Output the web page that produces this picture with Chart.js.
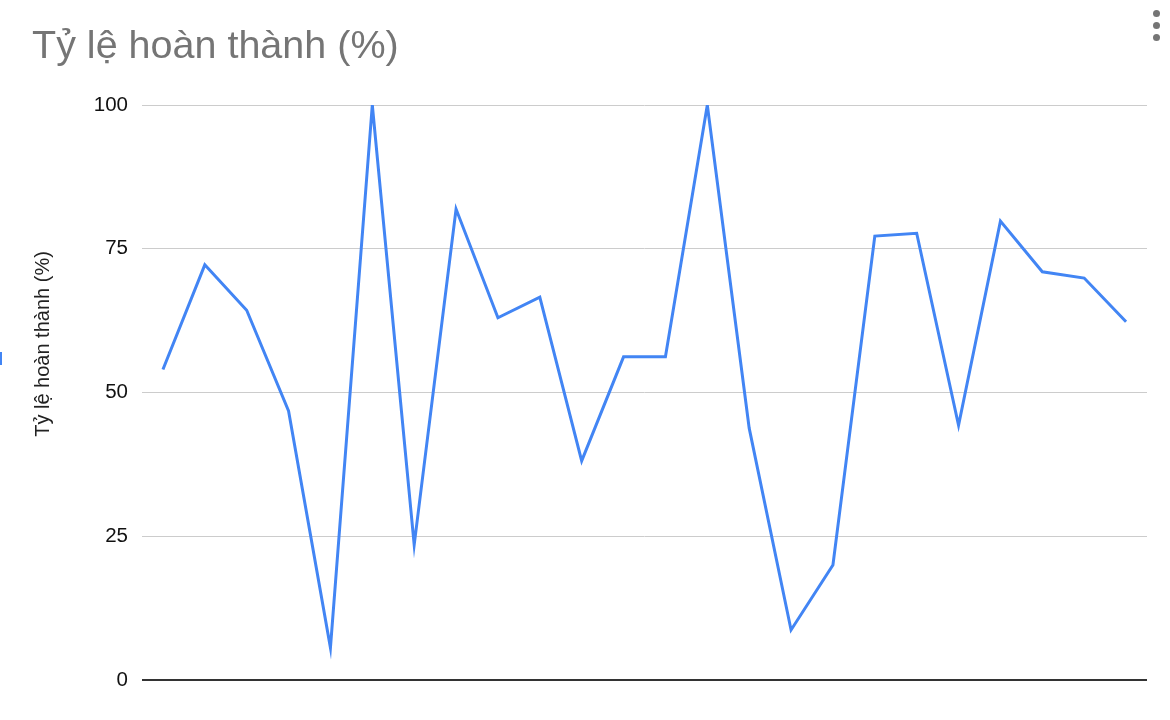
<!DOCTYPE html>
<html>
<head>
<meta charset="utf-8">
<script src="https://cdn.jsdelivr.net/npm/chart.js@4"></script>
<style>
  html, body { margin: 0; padding: 0; background: #fff; }
  #wrap { position: relative; width: 1170px; height: 720px; overflow: hidden; }
  #title {
    position: absolute; left: 32px; top: 22px;
    font-family: "Liberation Sans", Arial, sans-serif; font-size: 39.5px;
    color: #757575; white-space: nowrap;
  }
  .dot { position: absolute; left: 1153px; width: 7px; height: 7px; border-radius: 50%; background: #757575; }
  #edge { position: absolute; left: 0; top: 352px; width: 2px; height: 13px; background: #4285f4; }
</style>
</head>
<body>
<div id="wrap">
  <canvas id="my-chart" width="1170" height="720"></canvas>
  <div id="title">Tỷ lệ hoàn thành (%)</div>
  <div class="dot" style="top:10px"></div>
  <div class="dot" style="top:22px"></div>
  <div class="dot" style="top:34px"></div>
  <div id="edge"></div>
</div>
<script>
const seriesName = "Tỷ lệ hoàn thành (%)"
const labels = ["1", "2", "3", "4", "5", "6", "7", "8", "9", "10", "11", "12",
  "13", "14", "15", "16", "17", "18", "19", "20", "21", "22", "23", "24"]
const completion = [54, 72.2, 64.3, 46.8, 5.6, 100, 23.5, 81.9, 63, 66.6, 38.1, 56.2,
  56.2, 100, 43.8, 8.7, 20, 77.2, 77.7, 44.3, 79.8, 71, 69.9, 62.3]
const yTicks = [0, 25, 50, 75, 100]

// draws the rotated y-axis title where Google places it (not centred on the plot)
const yTitlePlugin = {
  id: "yTitle",
  afterDraw(chart) {
    const ctx = chart.ctx
    ctx.save()
    ctx.translate(43, 344)
    ctx.rotate(-Math.PI / 2)
    ctx.font = '20px "Liberation Sans", Arial, sans-serif'
    ctx.fillStyle = "#222"
    ctx.textAlign = "center"
    ctx.textBaseline = "middle"
    ctx.fillText(seriesName, 0, 0)
    ctx.restore()
  }
}

window.onload = function () {
  const ctx = document.getElementById("my-chart").getContext("2d")
  new Chart(ctx, {
    type: "line",
    data: {
      labels: labels,
      datasets: [
        {
          label: seriesName,
          data: completion,
          borderColor: "#4285f4",
          backgroundColor: "#4285f4",
          borderWidth: 3,
          pointRadius: 0,
          tension: 0,
        },
      ],
    },
    options: {
      responsive: false,
      animation: false,
      layout: { padding: { top: 105, right: 23, bottom: 40, left: 0 } },
      plugins: { legend: { display: false }, tooltip: { enabled: false } },
      scales: {
        x: { display: false, offset: true },
        y: {
          min: 0,
          max: 100,
          afterFit: (scale) => { scale.width = 142 },
          afterBuildTicks: (scale) => { scale.ticks = yTicks.map((v) => ({ value: v })) },
          border: { display: false },
          grid: {
            drawTicks: false,
            color: (c) => (c.tick && c.tick.value === 0 ? "#333" : "#cccccc"),
            lineWidth: (c) => (c.tick && c.tick.value === 0 ? 2 : 1),
          },
          ticks: {
            padding: 14,
            color: "#111",
            font: { family: '"Liberation Sans", Arial, sans-serif', size: 20.5 },
          },
        },
      },
    },
    plugins: [yTitlePlugin],
  })
}
</script>
</body>
</html>
